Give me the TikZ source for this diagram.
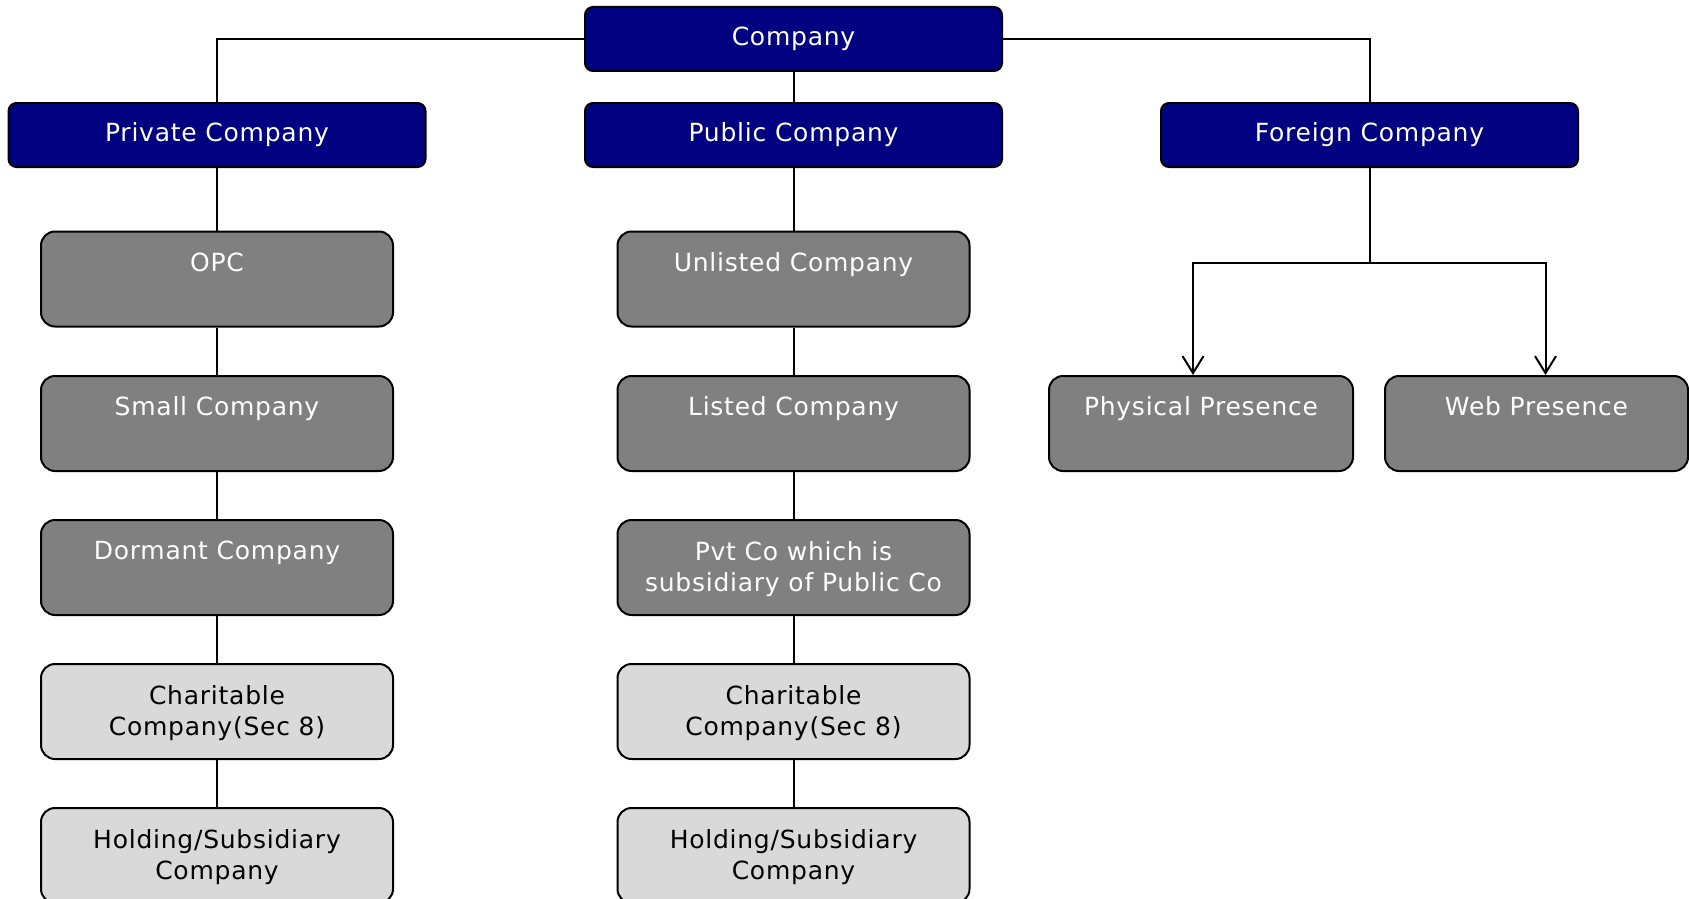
\documentclass[tikz,border=0pt]{standalone}
\usepackage{fontspec}
\setmainfont[LetterSpace=3]{DejaVu Sans}
\usetikzlibrary{arrows.meta}
\definecolor{cohead}{RGB}{0,0,128}
\definecolor{codark}{RGB}{128,128,128}
\definecolor{colight}{RGB}{217,217,217}

\begin{document}
\begin{tikzpicture}[x=1pt, y=-1pt, line width=2pt, every node/.style={font=\fontsize{25}{31}\selectfont}]
    \tikzstyle{headbox}=[draw, fill=cohead, text=white, rounded corners=8pt, minimum width=417pt, minimum height=64pt, inner sep=0pt]
    \tikzstyle{subbox}=[draw, rounded corners=14pt, minimum height=95pt, inner sep=0pt]
    \tikzstyle{subtext}=[anchor=north, inner sep=0pt, align=center]
    \tikzstyle{marrs}=[-{Straight Barb[length=17pt,width=21pt]}]

    \useasboundingbox (0,0) rectangle (1689,899);

    % top level
    \node[headbox] (company) at (793.5,39) {Company};
    \node[headbox] (private) at (217,135) {Private Company};
    \node[headbox] (public) at (793.5,135) {Public Company};
    \node[headbox] (foreign) at (1369.5,135) {Foreign Company};

    \draw (company.west) -| (private.north);
    \draw (company.east) -| (foreign.north);
    \draw (company) -- (public);

    % private column
    \foreach \n/\y/\f/\c/\t in {pvopc/279/codark/white/OPC,
                                pvsmall/423.5/codark/white/Small Company,
                                pvdormant/567.5/codark/white/Dormant Company,
                                pvcharity/711.5/colight/black/{Charitable\\Company(Sec 8)},
                                pvhold/855.5/colight/black/{Holding/Subsidiary\\Company}} {
        \node[subbox, fill=\f, minimum width=352pt] (\n) at (217,\y) {};
        \node[subtext, text=\c] (\n-txt) at ([yshift=-21pt]\n.north) {\t};
    }

    % public column
    \foreach \n/\y/\f/\c/\t in {pbunlisted/279/codark/white/Unlisted Company,
                                pblisted/423.5/codark/white/Listed Company,
                                pbsubsid/567.5/codark/white/{Pvt Co which is\\subsidiary of Public Co},
                                pbcharity/711.5/colight/black/{Charitable\\Company(Sec 8)},
                                pbhold/855.5/colight/black/{Holding/Subsidiary\\Company}} {
        \node[subbox, fill=\f, minimum width=352pt] (\n) at (793.5,\y) {};
        \node[subtext, text=\c] (\n-txt) at ([yshift=-21pt]\n.north) {\t};
    }

    \foreach \a/\b in {private/pvopc, pvopc/pvsmall, pvsmall/pvdormant, pvdormant/pvcharity, pvcharity/pvhold,
                       public/pbunlisted, pbunlisted/pblisted, pblisted/pbsubsid, pbsubsid/pbcharity, pbcharity/pbhold} {
        \draw (\a) -- (\b);
    }

    % foreign company
    \node[subbox, fill=codark, minimum width=304pt] (phys) at (1201,423.5) {};
    \node[subtext, text=white] (phys-txt) at ([yshift=-21pt]phys.north) {Physical Presence};
    \node[subbox, fill=codark, minimum width=303pt] (web) at (1536.5,423.5) {};
    \node[subtext, text=white] (web-txt) at ([yshift=-21pt]web.north) {Web Presence};

    \coordinate (fork) at (1369.5,263);
    \draw (foreign) -- (fork);
    \draw[marrs] (fork) -| ([xshift=-8pt]phys.north);
    \draw[marrs] (fork) -| ([xshift=9pt]web.north);

\end{tikzpicture}
\end{document}
